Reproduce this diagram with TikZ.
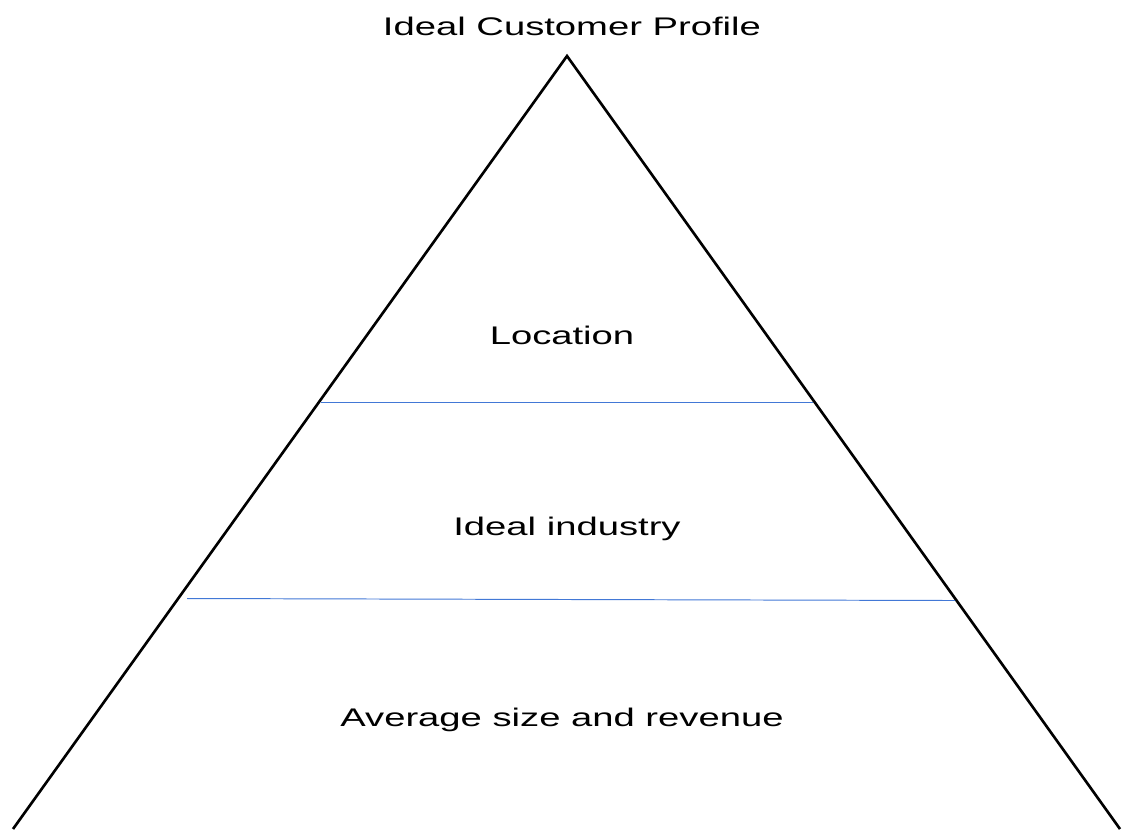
\documentclass[tikz,border=0pt]{standalone}
\usepackage{fontspec}
\setmainfont{Liberation Sans}[FakeStretch=1.5]
\definecolor{tierblue}{RGB}{66,120,214}

\begin{document}
\begin{tikzpicture}[x=0.02cm, y=-0.02cm,
    label/.style={font=\fontsize{14.5}{17}\selectfont},
    tier/.style={tierblue, line width=0.55pt}]
    \useasboundingbox (0, 0) rectangle (1124, 829);
    \clip (0, 0) rectangle (1124, 829);

    \coordinate (apex) at (567, 56);
    \coordinate (bl) at (13, 829);
    \coordinate (br) at (1120, 829);
    \draw [line width=1.5pt, line join=miter] (bl) -- (apex) -- (br);

%    tier boundaries
    \coordinate (t1l) at (321, 402.5);
    \coordinate (t1r) at (813, 402.5);
    \coordinate (t2l) at (187, 598.5);
    \coordinate (t2r) at (955, 600.5);
    \draw [tier] (t1l) -- (t1r);
    \draw [tier] (t2l) -- (t2r);

    \node [label] (title) at (572, 26) {Ideal Customer Profile};
    \node [label] (loc) at (562, 335) {Location};
    \node [label] (ind) at (567, 529) {Ideal industry};
    \node [label] (size) at (562, 720) {Average size and revenue};
\end{tikzpicture}
\end{document}
